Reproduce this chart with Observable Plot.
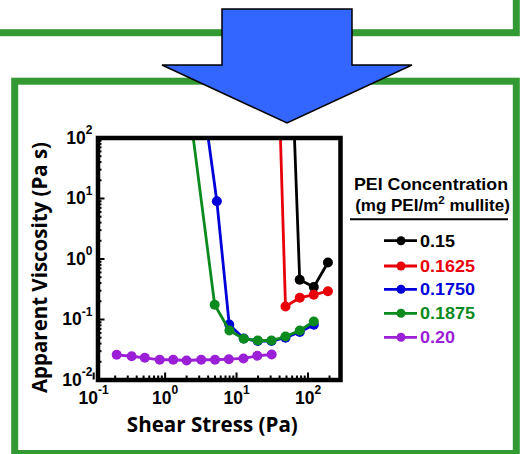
<!DOCTYPE html>
<html><head><meta charset="utf-8">
<script src="https://cdn.jsdelivr.net/npm/d3@7"></script>
<script src="https://cdn.jsdelivr.net/npm/@observablehq/plot@0.6"></script>
<style>
html,body{margin:0;padding:0;background:#fff;}
#wrap{position:relative;width:527px;height:454px;overflow:hidden;background:#fff;}
#wrap > svg{position:absolute;left:0;top:0;}
</style></head><body><div id="wrap"></div>
<script>
// ---- data ----
const seriesNames = ["0.15", "0.1625", "0.1750", "0.1875", "0.20"];
const seriesColors = ["#000000", "#e8000b", "#0000d8", "#0b8a1e", "#9b1fd6"];

const stress015 = [48.4, 76.5, 120.6, 190];
const visc015 = [1.1e6, 0.453, 0.344, 0.875];

const stress01625 = [30, 48.4, 76.7, 120.6, 190];
const visc01625 = [2.7e7, 0.164, 0.229, 0.256, 0.294];

const stress01750 = [3.2, 5.3, 7.9, 12.6, 19.8, 30.8, 48.4, 76.7, 120.6];
const visc01750 = [700, 9.0, 0.0826, 0.0485, 0.044, 0.044, 0.050, 0.062, 0.0817];

const stress01875 = [2.0, 4.94, 7.94, 12.6, 19.8, 30.8, 48.4, 76.7, 120.6];
const visc01875 = [720, 0.175, 0.0658, 0.048, 0.045, 0.045, 0.0523, 0.0658, 0.0927];

const stress020 = [0.21, 0.34, 0.52, 0.84, 1.3, 2.0, 3.2, 5.0, 7.8, 12.5, 19.5, 31];
const visc020 = [0.0261, 0.0247, 0.0233, 0.0216, 0.0216, 0.021, 0.0216, 0.0216, 0.0221, 0.0227, 0.0251, 0.0264];

const xMajorTicks = [0.1, 1, 10, 100];
const xMinorTicks = [0.2, 0.3, 0.4, 0.5, 0.6, 0.7, 0.8, 0.9, 2, 3, 4, 5, 6, 7, 8, 9, 20, 30, 40, 50, 60, 70, 80, 90, 200];
const yMajorTicks = [0.01, 0.1, 1, 10, 100];
const yMinorTicks = [0.02, 0.03, 0.04, 0.05, 0.06, 0.07, 0.08, 0.09, 0.2, 0.3, 0.4, 0.5, 0.6, 0.7, 0.8, 0.9, 2, 3, 4, 5, 6, 7, 8, 9, 20, 30, 40, 50, 60, 70, 80, 90];

const xTitle = "Shear Stress (Pa)";
const yTitle = "Apparent Viscosity (Pa s)";
const legendTitle1 = "PEI Concentration";
const legendTitle2a = "(mg PEI/m";
const legendTitle2sup = "2";
const legendTitle2b = " mullite)";

// ---- build table ----
const stresses = [stress015, stress01625, stress01750, stress01875, stress020];
const viscs = [visc015, visc01625, visc01750, visc01875, visc020];
const rows = [];
seriesNames.forEach((name, i) => stresses[i].forEach((x, j) => rows.push({series: name, stress: x, visc: viscs[i][j]})));

const wrap = d3.select("#wrap");

// ---- background decoration: green boxes + arrow ----
const bg = wrap.append("svg").attr("width", 527).attr("height", 454);
bg.append("rect").attr("x", -10).attr("y", -10).attr("width", 526.3).attr("height", 42.7)
  .attr("fill", "none").attr("stroke", "#339933").attr("stroke-width", 7);
bg.append("rect").attr("x", 14.7).attr("y", 81.2).attr("width", 501.6).attr("height", 372.3)
  .attr("fill", "none").attr("stroke", "#339933").attr("stroke-width", 7);
bg.append("polygon")
  .attr("points", "222,9 352,9 352,65 412,65 287,123 162,65 222,65")
  .attr("fill", "#3366ff").attr("stroke", "#000").attr("stroke-width", 1.5).attr("stroke-linejoin", "miter");

// ---- chart ----
const marks = [];
seriesNames.forEach((name, i) => {
  const d = rows.filter(r => r.series === name);
  marks.push(Plot.line(d, {x: "stress", y: "visc", stroke: seriesColors[i], strokeWidth: 2.8, clip: true}));
  marks.push(Plot.dot(d, {x: "stress", y: "visc", fill: seriesColors[i], r: 5, clip: true}));
});
const sup = d => "10^" + Math.round(Math.log10(d));
const plot = Plot.plot({
  width: 360, height: 320,
  marginLeft: 97.5, marginRight: 20, marginTop: 37.5, marginBottom: 40.5,
  x: {type: "log", domain: [0.115, 285], label: null},
  y: {type: "log", domain: [0.01, 100], label: null},
  style: {background: "transparent", fontFamily: "'Liberation Sans', Arial, sans-serif", fontWeight: "bold", fontSize: "17.5px", color: "#000", overflow: "visible"},
  marks: [
    ...marks,
    Plot.axisY({ticks: yMinorTicks, tickSize: -4, tickFormat: () => "", strokeWidth: 2, label: null}),
    Plot.axisY({ticks: yMajorTicks, tickSize: -7, tickPadding: 12.5, tickFormat: sup, strokeWidth: 2, label: null}),
    Plot.axisX({ticks: xMinorTicks, tickSize: -4, tickFormat: () => "", strokeWidth: 2, label: null}),
    Plot.axisX({ticks: xMajorTicks, tickSize: -7, tickPadding: 18.5, tickFormat: sup, strokeWidth: 2, label: null}),
    Plot.frame({stroke: "#000", strokeWidth: 4.5})
  ]
});
plot.style.position = "absolute";
plot.style.left = "0px";
plot.style.top = "100px";
document.getElementById("wrap").appendChild(plot);

// superscript exponents on tick labels
d3.select(plot).selectAll("text").each(function () {
  const m = this.textContent.match(/^10\^(-?\d+)$/);
  if (!m) return;
  const t = d3.select(this);
  t.text("");
  t.append("tspan").text("10");
  t.append("tspan").attr("font-size", "12px").attr("dy", "-9.5").text(m[1]);
});

// ---- foreground texts: axis titles + legend ----
const fg = wrap.append("svg").attr("width", 527).attr("height", 454).style("pointer-events", "none");
const titleFont = "'Open Sans', 'DejaVu Sans', sans-serif";
fg.append("text").attr("x", 212.3).attr("y", 432).attr("text-anchor", "middle")
  .attr("font-family", titleFont).attr("font-weight", "bold").attr("font-size", 20.5)
  .attr("textLength", 171).attr("lengthAdjust", "spacingAndGlyphs").text(xTitle);
fg.append("text").attr("transform", "translate(46.5,267.5) rotate(-90)").attr("text-anchor", "middle")
  .attr("font-family", titleFont).attr("font-weight", "bold").attr("font-size", 20.5)
  .attr("textLength", 251).attr("lengthAdjust", "spacingAndGlyphs").text(yTitle);

const lgFont = "'Liberation Sans', Arial, sans-serif";
fg.append("text").attr("x", 431).attr("y", 190).attr("text-anchor", "middle")
  .attr("font-family", lgFont).attr("font-weight", "bold").attr("font-size", 17)
  .attr("textLength", 154).attr("lengthAdjust", "spacingAndGlyphs").text(legendTitle1);
const t2 = fg.append("text").attr("x", 432.5).attr("y", 211).attr("text-anchor", "middle")
  .attr("font-family", lgFont).attr("font-weight", "bold").attr("font-size", 17);
t2.append("tspan").text(legendTitle2a);
t2.append("tspan").attr("font-size", 11.5).attr("dy", -7).text(legendTitle2sup);
t2.append("tspan").attr("dy", 7).text(legendTitle2b);
fg.append("line").attr("x1", 350).attr("x2", 508).attr("y1", 219.3).attr("y2", 219.3)
  .attr("stroke", "#000").attr("stroke-width", 2);

const entryY = [240.7, 266, 289.3, 313.3, 337.3];
const entryW = [35, 55, 55, 55, 35];
seriesNames.forEach((name, i) => {
  const g = fg.append("g");
  g.append("line").attr("x1", 384).attr("x2", 417).attr("y1", entryY[i]).attr("y2", entryY[i])
    .attr("stroke", seriesColors[i]).attr("stroke-width", 2.8);
  g.append("circle").attr("cx", 401).attr("cy", entryY[i]).attr("r", 4.5).attr("fill", seriesColors[i]);
  g.append("text").attr("x", 420).attr("y", entryY[i] + 6)
    .attr("font-family", lgFont).attr("font-weight", "bold").attr("font-size", 16.5)
    .attr("fill", seriesColors[i])
    .attr("textLength", entryW[i]).attr("lengthAdjust", "spacingAndGlyphs").text(name);
});
</script></body></html>
